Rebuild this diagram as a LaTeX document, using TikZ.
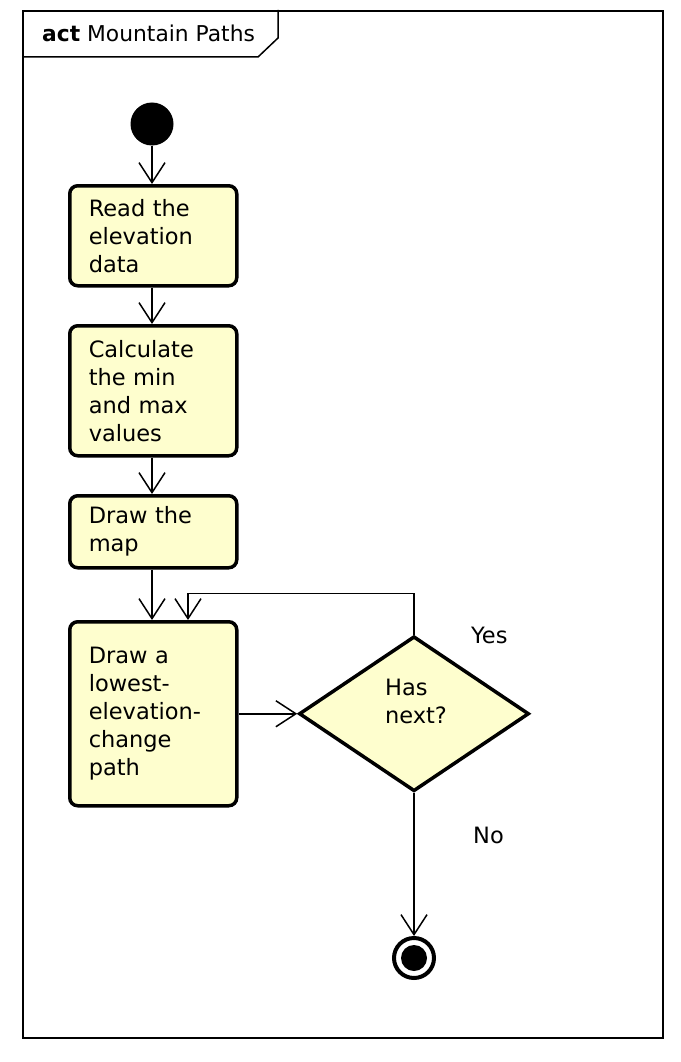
\documentclass[tikz,border=0pt]{standalone}
\usepackage{fontspec}
\setmainfont{DejaVu Sans}
\usetikzlibrary{arrows.meta,shapes.geometric,calc}
\definecolor{actfill}{HTML}{FEFECE}
\tikzset{
  actbox/.style={draw=black, line width=3.5pt, fill=actfill, rounded corners=8pt,
    minimum width=167pt, text width=129pt, inner xsep=19pt, inner ysep=0pt,
    align=left, anchor=north west, font=\fontsize{22.5}{28}\selectfont},
  flow/.style={line width=1.5pt, -{Straight Barb[length=20pt,width=26pt,line width=1.5pt]}},
  guard/.style={font=\fontsize{22.5}{28}\selectfont, anchor=base west, inner sep=0pt},
}
\begin{document}
\begin{tikzpicture}[x=1pt,y=-1pt]
\useasboundingbox (0,0) rectangle (680,1062);
% frame
\node[draw, line width=2.2pt, minimum width=640pt, minimum height=1027pt, anchor=north west, inner sep=0pt] (frame) at (22,10) {};
\node[anchor=base west, inner sep=0pt, font=\fontsize{21.8}{24}\selectfont] (title) at (42,42) {\textbf{act} Mountain Paths};
\draw[line width=1.5pt] (frame.north west) ++(256,0) coordinate (t1) -- ++(0,28) -- (258,57) -- (22,57);
% initial
\node[circle, fill=black, minimum size=43pt, inner sep=0pt] (start) at (152,124) {};
% actions
\node[actbox, minimum height=100pt] (b1) at (68,184) {Read the\\elevation\\data};
\node[actbox, minimum height=130pt] (b2) at (68,324) {Calculate\\the min\\and max\\values};
\node[actbox, minimum height=72pt] (b3) at (68,494) {Draw the\\map};
\node[actbox, minimum height=184pt] (b4) at (68,620) {Draw a\\lowest-\\elevation-\\change\\path};
% decision
\node[diamond, draw, line width=3.5pt, fill=actfill, minimum width=230pt, minimum height=155pt, inner sep=0pt,
  label={[font=\fontsize{22.5}{28}\selectfont, align=left, yshift=12pt, xshift=2pt]center:Has\\next?}] (dec) at (414,713.75) {};
% final
\node[circle, draw, line width=4pt, minimum size=40pt, inner sep=0pt] (fin) at (414,958) {};
\node[circle, fill=black, minimum size=26pt, inner sep=0pt] (fincore) at (fin.center) {};
% guards
\node[guard] (yes) at (471,643) {Yes};
\node[guard] (no) at (473,843) {No};
% flows
\draw[flow] (start) -- (b1.north -| start);
\draw[flow] (b1.south -| start) -- (b2.north -| start);
\draw[flow] (b2.south -| start) -- (b3.north -| start);
\draw[flow] (b3.south -| start) -- (b4.north -| start);
\coordinate (loopin) at ([xshift=36pt]b4.north -| start);
\draw[flow] (dec.north) -- ++(0,-41) -| (loopin);
\draw[flow] (b4.east) -- (b4.east -| dec.west);
\draw[flow] (dec.south) -- (fin.north);
\end{tikzpicture}
\end{document}
